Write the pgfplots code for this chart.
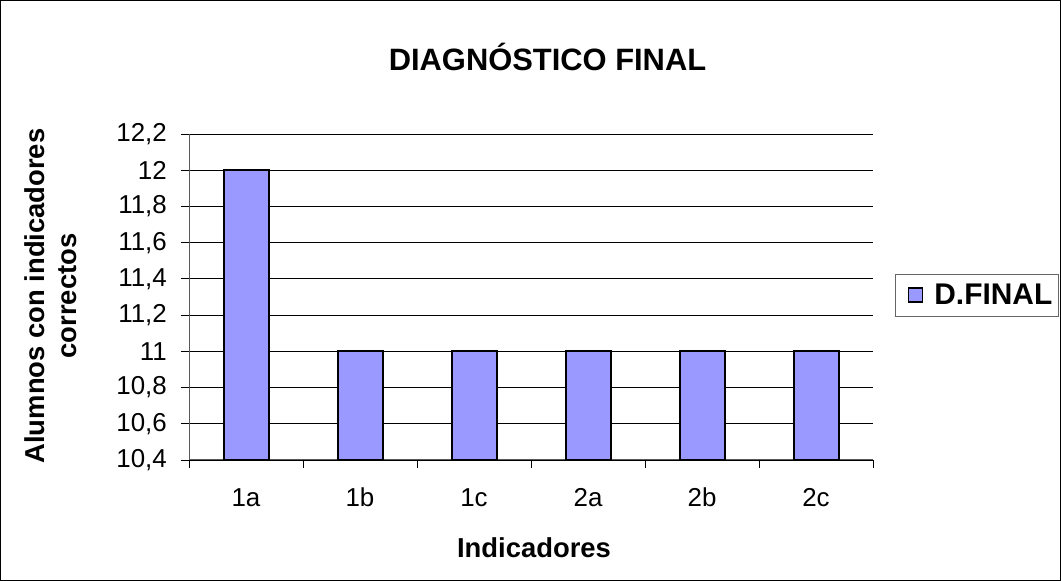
\documentclass[border=0pt]{standalone}
\usepackage{pgfplots}
\pgfplotsset{compat=1.18}
\usepackage{fontspec}
\setmainfont{Liberation Sans}
\definecolor{barfill}{HTML}{9999FF}
\begin{document}
\begin{tikzpicture}
\useasboundingbox (0,0) rectangle (1061bp,581bp);
\draw[black, line width=1bp] (0.5bp,0.5bp) rectangle (1060.5bp,580.5bp);
\begin{axis}[
  at={(189bp,121bp)}, anchor=south west,
  scale only axis, width=684bp, height=326bp,
  xmin=-0.5, xmax=5.5, ymin=10.4, ymax=12.2,
  xtick={0,1,2,3,4,5},
  xticklabels={1a,1b,1c,2a,2b,2c},
  minor xtick={-0.5,0.5,1.5,2.5,3.5,4.5,5.5},
  major x tick style={draw=none},
  ytick={10.4,10.6,10.8,11,11.2,11.4,11.6,11.8,12,12.2},
  tick align=outside, major tick length=8bp, minor tick length=8bp,
  tick style={black, line width=0.8bp},
  axis x line*=bottom, axis y line*=left,
  axis line style={gray!70!black, line width=1bp, -},
  ymajorgrids, grid style={black, line width=0.8bp},
  /pgf/number format/assume math mode=true,
  /pgf/number format/.cd, use comma, fixed, precision=1, /pgfplots/.cd,
  tick label style={font=\fontsize{26}{30}\selectfont},
  yticklabel style={inner xsep=0pt, xshift=-14bp},
  xticklabel style={inner ysep=0pt, yshift=-20bp},
  legend style={at={(1.032,0.506)}, anchor=west, draw=gray!80!black, line width=1bp,
    font=\bfseries\fontsize{30}{34}\selectfont, inner xsep=0bp, inner ysep=8bp},
  legend image code/.code={\path (0bp,0bp) (35bp,0bp);\draw[#1, line width=1.2bp] (12bp,-7bp) rectangle (26bp,7bp);},
]
\addplot[ybar, bar width=45bp, fill=barfill, draw=black, line width=2bp]
  coordinates {(0,12) (1,11) (2,11) (3,11) (4,11) (5,11)};
\addlegendentry{D.FINAL\kern4bp}
\end{axis}
\node[font=\bfseries\fontsize{31}{36}\selectfont] at (547.5bp,524bp) {DIAGNÓSTICO FINAL};
\node[font=\bfseries\fontsize{27.5}{32}\selectfont, rotate=90, align=center] at (51bp,285bp) {Alumnos con indicadores\\correctos};
\node[font=\bfseries\fontsize{27.5}{32}\selectfont] at (534bp,33bp) {Indicadores};
\end{tikzpicture}
\end{document}
